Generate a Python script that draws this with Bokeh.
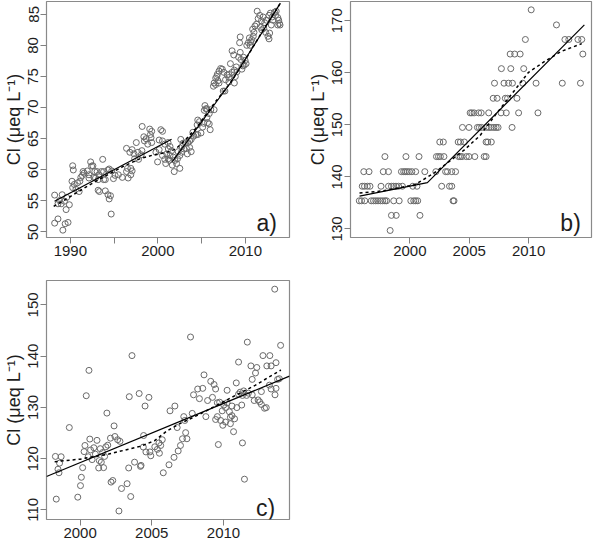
import math
from bokeh.plotting import figure
from bokeh.layouts import column, row
from bokeh.models import FixedTicker, Label, Range1d
from bokeh.embed import file_html
from bokeh.resources import INLINE

# ---------------- Panel a data ----------------
a_year = [
    1998.21, 1999.07, 1999.30, 2000.34, 2000.53, 1998.40, 1998.66, 1999.15, 1998.47, 1999.22,
    1999.30, 1998.85, 1996.42, 1996.80, 1997.06, 1997.28, 1997.54, 1997.73, 1998.10, 1998.18,
    2000.15, 2000.53, 2000.79, 2001.16, 1999.78, 2000.15, 2000.53, 2000.79, 1999.97, 2000.90,
    1997.35, 1997.80, 1993.70, 1992.32, 1992.43, 1992.58, 1990.27, 1990.34, 1991.46, 1991.57,
    1991.94, 1992.13, 1992.80, 1993.06, 1993.25, 1993.55, 1993.81, 1994.30, 1994.44, 1994.74,
    1991.20, 1991.38, 1992.13, 1992.69, 1992.88, 1993.18, 1993.81, 1994.00, 1994.93, 1995.12,
    1995.49, 1995.94, 1996.42, 1996.61, 1996.91, 1996.53, 1996.91, 1997.06, 1990.19, 1990.45,
    1990.82, 1991.09, 1990.64, 1991.01, 1990.27, 1993.18, 1993.33, 1994.00, 1994.30, 1994.44,
    1994.59, 1988.21, 1989.07, 1988.77, 1988.59, 1988.96, 1989.33, 1989.59, 1989.89, 1989.52,
    1988.21, 1988.59, 1989.15, 1989.41, 1989.74, 1994.67,
    2011.35, 2011.65, 2011.46, 2011.84, 2011.28, 2011.09, 2012.02, 2012.21, 2012.40, 2012.70,
    2012.85, 2013.07, 2013.14, 2013.33, 2013.52, 2013.44, 2013.70, 2013.81, 2013.89, 2013.96,
    2013.70, 2012.96, 2012.10, 2011.87, 2011.73, 2012.58, 2012.70, 2012.77, 2012.32, 2010.98,
    2010.90, 2010.72, 2010.46, 2010.61, 2010.34, 2010.16, 2010.53, 2009.41, 2009.34, 2010.83,
    2008.48, 2008.67, 2009.41, 2009.23, 2009.49, 2009.79, 2009.97, 2009.86, 2010.08, 2009.71,
    2009.60, 2008.96, 2008.74, 2009.04, 2008.29, 2008.48, 2008.11, 2007.92, 2007.55, 2007.36,
    2007.17, 2006.99, 2006.80, 2006.73, 2006.61, 2006.87, 2006.43, 2006.35, 2006.61, 2006.99,
    2007.73, 2008.11, 2007.47, 2007.66, 2008.74, 2008.85, 2008.11,
    2005.38, 2005.49, 2005.31, 2005.61, 2006.05, 2006.43, 2005.87, 2005.61, 2004.56, 2004.75,
    2004.49, 2005.23, 2005.68, 2005.87, 2005.12, 2005.98, 2004.93, 2004.56, 2004.37, 2004.00,
    2004.11, 2003.81, 2003.63, 2003.44, 2003.14, 2002.88, 2002.62, 2002.77, 2002.99, 2003.26,
    2003.63, 2003.81, 2003.37, 2002.70, 2002.51, 2002.25, 2002.32, 2002.14, 2001.95, 2001.76,
    2001.65, 2001.87, 2002.51, 2001.20, 2001.39, 2001.02, 2001.39, 2001.20, 2001.58, 2001.28,
]
a_cl = [
    66.97, 66.55, 66.19, 66.45, 66.19, 65.31, 65.00, 65.67, 64.64, 65.16,
    64.38, 64.12, 63.45, 62.82, 63.24, 62.57, 64.38, 62.82, 62.41, 63.08,
    64.79, 64.64, 64.12, 64.38, 62.82, 63.24, 62.30, 61.68, 61.27, 61.01,
    61.79, 61.68, 61.68, 61.27, 60.60, 60.65, 60.65, 59.97, 59.72, 59.46,
    59.82, 59.20, 59.72, 59.72, 59.20, 59.72, 59.72, 59.97, 60.13, 59.82,
    58.78, 59.10, 58.68, 58.78, 58.68, 58.42, 58.42, 58.42, 58.58, 59.10,
    59.20, 58.78, 59.72, 58.68, 59.20, 60.23, 60.23, 59.82, 58.16, 57.64,
    57.90, 58.16, 56.87, 56.50, 57.13, 56.71, 56.50, 56.61, 55.99, 55.31,
    55.83, 55.93, 55.99, 55.05, 54.53, 54.53, 54.95, 55.57, 54.38, 53.60,
    51.42, 52.10, 50.29, 51.32, 51.53, 52.88,
    85.51, 84.84, 84.32, 83.96, 83.44, 83.13, 84.58, 83.65, 84.06, 84.84,
    85.20, 84.58, 84.06, 85.36, 85.51, 84.84, 84.48, 84.06, 83.54, 83.29,
    83.29, 83.29, 82.77, 82.51, 82.92, 81.47, 81.06, 81.99, 82.10, 82.10,
    81.47, 80.95, 81.21, 80.54, 80.44, 80.02, 80.02, 81.37, 80.44, 82.61,
    79.14, 78.47, 78.88, 78.10, 77.74, 78.10, 77.59, 76.81, 77.07, 76.71,
    76.19, 76.55, 76.03, 75.77, 77.07, 75.67, 75.36, 75.26, 75.67, 76.19,
    76.29, 75.88, 75.36, 75.00, 74.74, 74.32, 73.96, 73.44, 73.70, 73.96,
    74.48, 74.12, 72.66, 72.66, 73.96, 75.00, 74.84,
    70.33, 69.82, 69.56, 69.82, 69.66, 69.66, 69.04, 68.42, 68.00, 67.74,
    67.22, 67.48, 67.59, 67.38, 66.86, 66.45, 65.93, 65.67, 65.67, 66.03,
    65.41, 64.89, 64.63, 64.37, 64.37, 64.27, 64.89, 63.75, 63.34, 63.44,
    63.60, 62.92, 62.56, 62.82, 62.30, 61.78, 62.92, 61.00, 61.52, 62.04,
    60.75, 59.71, 60.23, 63.34, 63.75, 62.56, 62.30, 61.78, 63.08, 61.52,
]
a_fit1_year = [1988.2, 2001.57]
a_fit1_cl = [54.95, 64.9]
a_fit2_year = [2001.65, 2008.3, 2014.0]
a_fit2_cl = [61.3, 74.0, 86.8]
a_smooth_year = [1988.1, 1990, 1992, 1994, 1996, 1998, 1999.5, 2001, 2002, 2003, 2004.5,
                 2006.5, 2008.3, 2010, 2012, 2014]
a_smooth_cl = [54.1, 55.7, 57.4, 59.0, 60.5, 61.8, 62.4, 62.8, 63.3, 64.6, 66.9,
               70.8, 74.0, 77.7, 82.4, 86.8]

# ---------------- Panel b data ----------------
b_year = [
    2010.22,
    2012.35,
    2009.73, 2013.06, 2013.39, 2014.16, 2014.48,
    2008.45, 2008.83, 2009.29, 2014.57,
    2007.71, 2008.50, 2009.59,
    2007.13, 2007.93, 2008.31, 2008.64, 2009.51, 2010.63, 2012.84, 2014.37,
    2007.02, 2007.35, 2008.04, 2008.23, 2009.02,
    2005.08, 2005.22, 2005.41, 2005.79, 2006.01, 2006.64, 2007.68, 2008.12, 2009.16, 2010.79,
    2004.43, 2004.98, 2005.69, 2005.85, 2006.04, 2006.45, 2006.67, 2006.86, 2007.08, 2007.27,
    2007.43, 2008.61,
    2002.52, 2002.82, 2004.07, 2004.26, 2004.59, 2006.42, 2006.56, 2006.86,
    1997.90, 1999.67, 2000.77, 2002.24, 2002.41, 2002.57, 2002.87, 2004.10, 2004.24, 2004.40,
    2004.76, 2004.98, 2005.47, 2006.26, 2006.42,
    1996.12, 1996.56, 1997.76, 1998.20, 1999.29, 1999.48, 1999.62, 1999.78, 1999.95, 2000.17,
    2000.49, 2001.26, 2002.19, 2003.01, 2003.17, 2003.53, 2003.85,
    1995.99, 1996.18, 1996.42, 1996.64, 1997.57, 1998.20, 1998.45, 1998.64, 1998.83, 1999.05,
    1999.37, 2000.25, 2000.60, 2002.68, 2003.34, 2003.53,
    1995.74, 1995.93, 1996.20, 1996.75, 1996.94, 1997.13, 1997.32, 1997.52, 1997.71, 1997.90,
    1998.04, 1998.64, 1999.10, 2000.08, 2000.33, 2000.49, 2000.66, 2003.64, 2003.72,
    1998.45, 1998.85, 2000.85,
    1998.34,
]
b_cl = [
    172.1,
    169.2,
    166.4, 166.4, 166.4, 166.4, 166.4,
    163.6, 163.6, 163.6, 163.6,
    160.8, 160.8, 160.8,
    158.0, 158.0, 158.0, 158.0, 158.0, 158.0, 158.0, 158.0,
    155.1, 155.1, 155.1, 155.1, 155.1,
    152.3, 152.3, 152.3, 152.3, 152.3, 152.3, 152.3, 152.3, 152.3, 152.3,
    149.5, 149.5, 149.5, 149.5, 149.5, 149.5, 149.5, 149.5, 149.5, 149.5,
    149.5, 149.5,
    146.7, 146.7, 146.7, 146.7, 146.7, 146.7, 146.7, 146.7,
    143.9, 143.9, 143.9, 143.9, 143.9, 143.9, 143.9, 143.9, 143.9, 143.9,
    143.9, 143.9, 143.9, 143.9, 143.9,
    141.0, 141.0, 141.0, 141.0, 141.0, 141.0, 141.0, 141.0, 141.0, 141.0,
    141.0, 141.0, 141.0, 141.0, 141.0, 141.0, 141.0,
    138.2, 138.2, 138.2, 138.2, 138.2, 138.2, 138.2, 138.2, 138.2, 138.2,
    138.2, 138.2, 138.2, 138.2, 138.2, 138.2,
    135.4, 135.4, 135.4, 135.4, 135.4, 135.4, 135.4, 135.4, 135.4, 135.4,
    135.4, 135.4, 135.4, 135.4, 135.4, 135.4, 135.4, 135.4, 135.4,
    132.6, 132.6, 132.6,
    129.7,
]
b_fit_year = [1995.76, 2001.48, 2014.7]
b_fit_cl = [136.3, 138.9, 169.2]
b_smooth_year = [1995.76, 1997.7, 2000.44, 2002.08, 2003.17, 2004.54, 2005.9, 2007.27,
                 2008.64, 2010.0, 2011.37, 2012.74, 2014.48]
b_smooth_cl = [136.9, 137.3, 138.5, 140.8, 142.7, 145.1, 147.9, 152.1,
               156.1, 160.1, 162.2, 164.1, 165.6]

# ---------------- Panel c data ----------------
c_year = [
    2003.62, 2000.62, 2000.43, 2003.43, 2004.12, 2004.80, 2004.53, 2001.87, 2002.37, 1999.25,
    2000.68, 2001.18, 2002.12, 2002.43, 2002.62, 2002.78, 2001.93, 2001.80, 2000.34, 2000.96,
    2001.41, 2001.57, 2000.28, 2000.73, 2000.57, 2001.07, 2000.84, 2001.34, 2001.71, 2001.48,
    1998.28, 1998.68, 1998.57, 1998.46, 1998.53, 2000.18, 2001.30, 2001.64, 2003.39, 2003.80,
    2004.25, 2004.21, 2004.43, 2004.41, 2004.59, 2004.93, 2004.87, 2005.21, 2005.39, 2005.50,
    2005.62, 2005.73, 2005.53, 2005.80, 2000.09, 2000.03, 2002.16, 2002.28, 2003.28, 2002.89,
    2003.53, 1998.34, 1999.84, 2002.71,
    2013.57, 2007.70, 2011.66, 2013.98, 2011.05, 2012.75, 2013.23, 2011.91, 2012.32, 2012.23,
    2013.02, 2013.32, 2013.66, 2008.64, 2009.11, 2009.34, 2009.45, 2008.55, 2008.20, 2007.91,
    2008.32, 2008.89, 2009.23, 2009.57, 2010.25, 2010.89, 2012.00, 2011.41, 2011.16, 2011.05,
    2011.32, 2011.61, 2011.73, 2012.00, 2012.14, 2012.41, 2012.52, 2012.64, 2012.86, 2012.98,
    2012.64, 2013.32, 2013.59, 2013.20, 2013.66, 2013.89, 2013.77, 2011.27, 2010.93, 2010.59,
    2010.41, 2010.25, 2009.73, 2010.02, 2010.14, 2009.91, 2009.57, 2009.80, 2010.14, 2009.95,
    2010.48, 2010.59, 2010.77, 2010.48, 2010.70, 2009.45, 2008.77, 2007.82, 2007.23, 2006.77,
    2007.30, 2006.61, 2006.27, 2007.36, 2007.14, 2007.45, 2007.00, 2006.84, 2006.55, 2006.20,
    2009.64, 2011.32, 2011.46,
]
c_cl = [
    140.11, 137.23, 132.28, 132.09, 132.71, 131.96, 130.27, 128.89, 126.39, 126.07,
    123.82, 123.57, 124.00, 124.32, 123.69, 123.38, 122.63, 122.31, 122.57, 122.13,
    121.94, 121.19, 121.37, 121.69, 120.37, 120.87, 119.81, 119.62, 120.43, 119.31,
    120.43, 120.37, 119.12, 117.93, 117.24, 118.24, 118.18, 118.24, 118.18, 119.31,
    118.68, 118.49, 124.51, 122.25, 121.31, 120.56, 121.31, 122.31, 121.81, 123.07,
    122.57, 123.69, 121.06, 117.24, 116.36, 114.73, 115.42, 115.73, 115.11, 114.17,
    112.60, 112.10, 112.48, 109.78,
    153.08, 143.74, 142.74, 142.11, 138.85, 140.11, 140.11, 138.10, 137.79, 136.72,
    138.10, 138.10, 138.73, 136.35, 135.09, 134.47, 133.59, 133.72, 133.59, 132.46,
    131.71, 131.34, 131.96, 130.90, 133.34, 134.78, 135.47, 133.22, 132.97, 132.59,
    132.34, 132.34, 132.78, 132.46, 131.34, 131.46, 131.09, 130.58, 129.83, 129.96,
    133.09, 133.59, 132.46, 134.34, 133.72, 135.60, 135.47, 130.46, 129.96, 130.27,
    129.14, 130.90, 131.02, 130.46, 129.96, 129.33, 128.20, 127.45, 127.14, 126.51,
    128.08, 128.39, 127.77, 126.82, 125.26, 127.64, 128.20, 128.83, 128.20, 126.07,
    127.45, 130.27, 129.33, 125.07, 123.88, 123.88, 122.57, 121.50, 120.25, 118.80,
    122.75, 123.07, 115.99,
]
c_fit_year = [1997.66, 2014.6]
c_fit_cl = [116.5, 136.1]
c_smooth_year = [1998.23, 2000.0, 2002.0, 2004.2, 2005.2, 2006.05, 2007.0, 2008.3,
                 2010.6, 2012.2, 2014.0]
c_smooth_cl = [119.4, 119.9, 120.9, 122.4, 123.5, 125.4, 126.9, 128.6,
               132.0, 134.3, 137.3]

# ---------------- tick positions ----------------
a_xticks = [1990, 1995, 2000, 2005, 2010]
a_xlabels = {1990: "1990", 1995: "", 2000: "2000", 2005: "", 2010: "2010"}
a_yticks = [50, 55, 60, 65, 70, 75, 80, 85]
b_xticks = [2000, 2005, 2010]
b_yticks = [130, 140, 150, 160, 170]
c_xticks = [2000, 2005, 2010]
c_yticks = [110, 120, 130, 140, 150]

YLABEL = "Cl (\u03bceq L\u207b\u00b9)"
FONT = "Liberation Sans"
PT_COLOR = "#6a6a6a"
TXT = "#1e1e1e"


def make(width, height, xr, yr, xticks, yticks, mb, xlabels=None):
    p = figure(width=width, height=height, x_range=Range1d(*xr), y_range=Range1d(*yr),
               output_backend="svg", toolbar_location=None,
               min_border_left=mb[0], min_border_right=mb[1],
               min_border_top=mb[2], min_border_bottom=mb[3])
    p.xgrid.visible = False
    p.ygrid.visible = False
    p.outline_line_color = "#8a8a8a"
    p.outline_line_width = 1.2
    p.background_fill_color = "white"
    p.border_fill_color = "white"
    p.xaxis.ticker = FixedTicker(ticks=xticks)
    p.yaxis.ticker = FixedTicker(ticks=yticks)
    if xlabels:
        p.xaxis.major_label_overrides = xlabels
    for ax in (p.xaxis[0], p.yaxis[0]):
        ax.axis_line_color = None
        ax.major_tick_line_color = "#808080"
        ax.major_tick_line_width = 1
        ax.major_tick_out = 6
        ax.major_tick_in = 0
        ax.minor_tick_line_color = None
        ax.major_label_text_font = FONT
        ax.major_label_text_font_size = "15px"
        ax.major_label_text_color = TXT
        ax.major_label_standoff = 2
    p.yaxis.major_label_orientation = "vertical"
    p.yaxis.axis_label = YLABEL
    p.yaxis.axis_label_text_font = FONT
    p.yaxis.axis_label_text_font_size = "18px"
    p.yaxis.axis_label_text_font_style = "normal"
    p.yaxis.axis_label_text_color = TXT
    p.yaxis.axis_label_standoff = 2
    return p


def tag(p, x, y, t):
    p.add_layout(Label(x=x, y=y, text=t, text_align="right", text_baseline="alphabetic",
                       text_font=FONT, text_font_size="23px", text_color=TXT))


# panel a
pa = make(292, 262, (1987.28, 2015.04), (49.11, 87.07), a_xticks, a_yticks, (43, 3, 1, 25), a_xlabels)
pa.scatter(a_year, a_cl, marker="circle", size=6, fill_color=None, line_color=PT_COLOR, line_width=1)
pa.line(a_fit1_year, a_fit1_cl, line_color="black", line_width=1.2)
pa.line(a_fit2_year, a_fit2_cl, line_color="black", line_width=1.2)
pa.line(a_smooth_year, a_smooth_cl, line_color="black", line_width=1.5, line_dash="3 3")
tag(pa, 2013.6, 51.4, "a)")

# panel b
pb = make(301, 262, (1995.0, 2015.3), (128.35, 173.7), b_xticks, b_yticks, (58, 2, 1, 25))
pb.scatter(b_year, b_cl, marker="circle", size=6, fill_color=None, line_color=PT_COLOR, line_width=1)
pb.line(b_fit_year, b_fit_cl, line_color="black", line_width=1.2)
pb.line(b_smooth_year, b_smooth_cl, line_color="black", line_width=1.5, line_dash="3 3")
tag(pb, 2014.4, 131.1, "b)")

# panel c
pc = make(292, 282, (1997.66, 2014.6), (108.12, 154.77), c_xticks, c_yticks, (43, 3, 18, 25))
pc.scatter(c_year, c_cl, marker="circle", size=6, fill_color=None, line_color=PT_COLOR, line_width=1)
pc.line(c_fit_year, c_fit_cl, line_color="black", line_width=1.2)
pc.line(c_smooth_year, c_smooth_cl, line_color="black", line_width=1.5, line_dash="3 3")
tag(pc, 2013.6, 110.3, "c)")

layout = column(row(pa, pb), pc)
open("out.html", "w").write(file_html(layout, INLINE))
